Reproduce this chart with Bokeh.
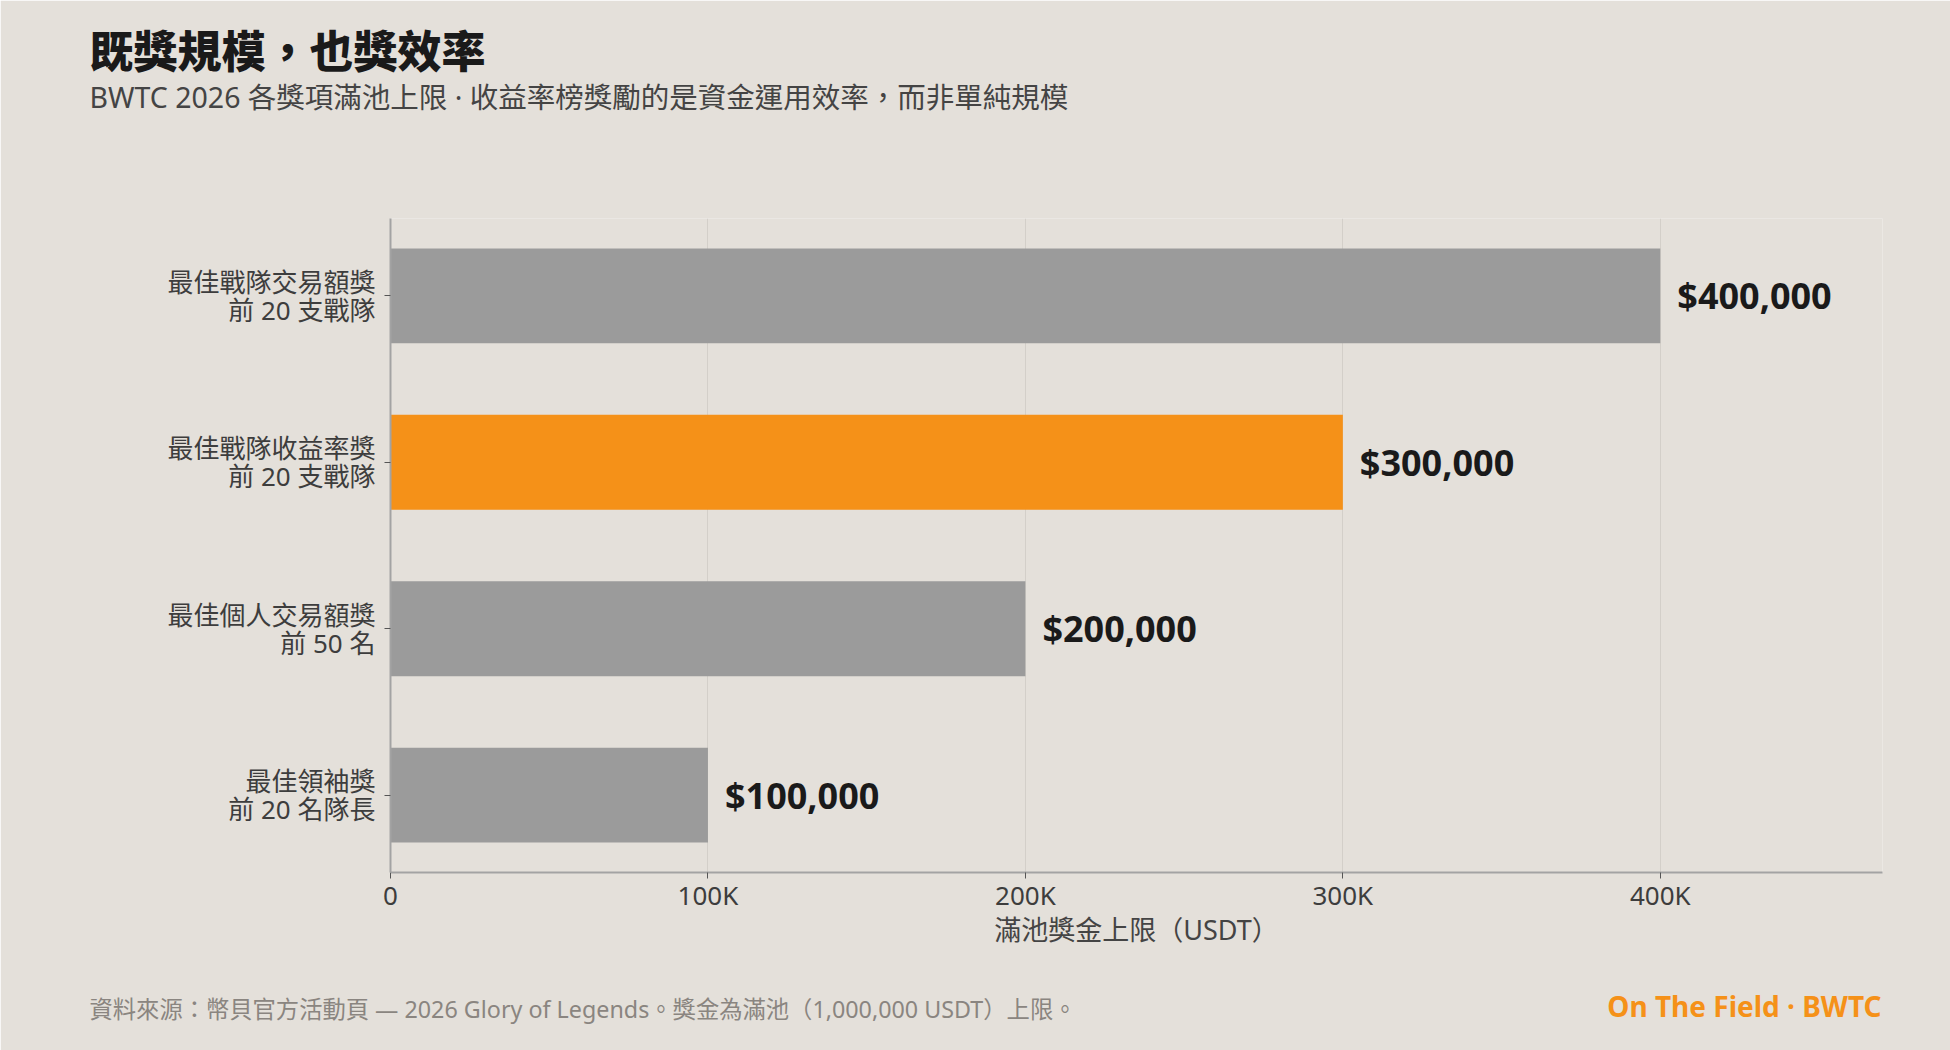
from bokeh.plotting import figure
from bokeh.models import Range1d, FixedTicker, Label, ColumnDataSource, Title
from bokeh.embed import file_html
from bokeh.resources import INLINE
from bokeh.core.properties import value

# ---- data ----
categories = [
    "最佳戰隊交易額獎\n前 20 支戰隊",
    "最佳戰隊收益率獎\n前 20 支戰隊",
    "最佳個人交易額獎\n前 50 名",
    "最佳領袖獎\n前 20 名隊長",
]
prizes = [400000, 300000, 200000, 100000]
highlight = [False, True, False, False]
x_ticks = [0, 100000, 200000, 300000, 400000]
x_tick_labels = ["0", "100K", "200K", "300K", "400K"]

title_text = "既獎規模，也獎效率"
subtitle_text = "BWTC 2026 各獎項滿池上限 · 收益率榜獎勵的是資金運用效率，而非單純規模"
source_text = "資料來源：幣貝官方活動頁 — 2026 Glory of Legends。獎金為滿池（1,000,000 USDT）上限。"
brand_text = "On The Field · BWTC"
x_axis_title = "滿池獎金上限（USDT）"

# ---- styles ----
BG = "#E4E0DA"
GREY = "#9B9B9B"
ORANGE = "#F59118"
FONT = "'Noto Sans', 'Noto Sans CJK TC', sans-serif"
TITLE_FONT = "'Noto Sans CJK TC Black', 'Noto Sans CJK TC', sans-serif"

n = len(categories)
ypos = [n - 1 - i for i in range(n)]
colors = [ORANGE if h else GREY for h in highlight]
labels = [f"${v:,}" for v in prizes]

src = ColumnDataSource(dict(y=ypos, x=prizes, color=colors, label=labels))

p = figure(width=1950, height=1050, output_backend="svg", toolbar_location=None,
           title=None,
           x_range=Range1d(0, 470000), y_range=Range1d(-0.465, 3.465),
           min_border_left=390, min_border_right=68, min_border_top=218, min_border_bottom=178,
           background_fill_color=BG, border_fill_color=BG, outline_line_color=None)

p.hbar(y="y", right="x", left=0, height=0.57, fill_color="color", line_color=None, source=src)
p.text(x="x", y="y", text="label", source=src, x_offset=17, text_baseline="middle",
       text_align="left", text_font=value(FONT), text_font_style="bold",
       text_font_size="36px", text_color="#1A1A1A")

# x axis
xa = p.xaxis[0]
xa.ticker = FixedTicker(ticks=x_ticks)
xa.major_label_overrides = dict(zip(x_ticks, x_tick_labels))
xa.axis_label = x_axis_title
xa.axis_label_text_font = FONT
xa.axis_label_text_font_size = "27px"
xa.axis_label_text_font_style = "normal"
xa.axis_label_text_color = "#444444"
xa.axis_label_standoff = -5
xa.major_label_text_font = FONT
xa.major_label_text_font_size = "26px"
xa.major_label_text_color = "#3D3D3D"
xa.major_label_standoff = -2
xa.axis_line_color = "#A3A3A3"
xa.axis_line_width = 2
xa.major_tick_out = 6
xa.major_tick_in = 0
xa.major_tick_line_color = "#555555"
xa.minor_tick_line_color = None

# y axis
ya = p.yaxis[0]
ya.ticker = FixedTicker(ticks=ypos)
ya.major_label_overrides = {y: c for y, c in zip(ypos, categories)}
ya.major_label_text_font = FONT
ya.major_label_text_font_size = "26px"
ya.major_label_text_line_height = 0.78
ya.major_label_text_color = "#3D3D3D"
ya.major_label_standoff = 9
ya.axis_line_color = "#A3A3A3"
ya.axis_line_width = 2
ya.major_tick_out = 6
ya.major_tick_in = 0
ya.major_tick_line_color = "#555555"
ya.minor_tick_line_color = None

p.ygrid.visible = False
p.xgrid.ticker = FixedTicker(ticks=x_ticks)
p.xgrid.grid_line_color = "#D3CFC9"
p.xgrid.grid_line_width = 1

# heading: spacer next to the frame, then subtitle, then title (outermost)
p.add_layout(Title(text=" ", standoff=87, text_font=FONT, text_font_size="10px",
                   text_color=BG), "above")
p.add_layout(Title(text=subtitle_text, align="left", offset=-301, standoff=0,
                   text_font=FONT, text_font_size="28.5px", text_font_style="normal",
                   text_color="#444444"), "above")
p.add_layout(Title(text=title_text, align="left", offset=-301, standoff=-11,
                   text_font=TITLE_FONT, text_font_size="44px", text_font_style="bold",
                   text_color="#1A1A1A"), "above")

# footer texts in the bottom panel (not clipped there)
p.add_layout(Label(x=-301, y=-26, x_units="screen", y_units="screen", text=source_text,
                   text_font=FONT, text_font_size="23.3px", text_color="#8A8580",
                   text_baseline="middle", text_align="left"), "below")
p.add_layout(Label(x=1491, y=15, x_units="screen", y_units="screen", text=brand_text,
                   text_font=FONT, text_font_style="bold", text_font_size="28px",
                   text_color=ORANGE, text_baseline="middle", text_align="right"), "below")

open("out.html", "w").write(file_html(p, INLINE))
